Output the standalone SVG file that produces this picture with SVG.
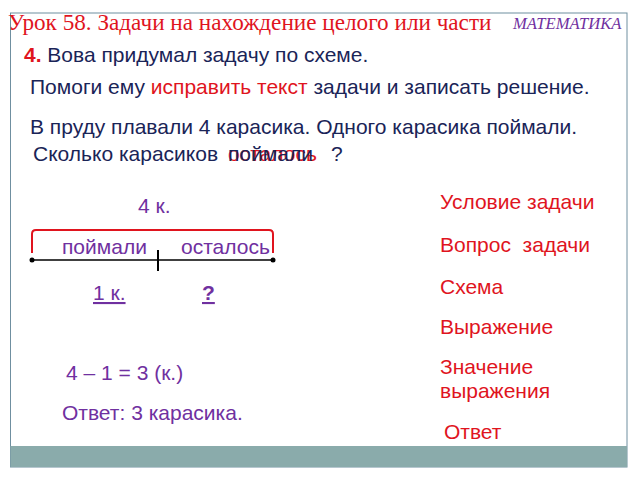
<svg xmlns="http://www.w3.org/2000/svg" width="638" height="479" viewBox="0 0 638 479">
<style>
.s{font-family:"Liberation Sans",Arial,sans-serif;font-size:21px}
.n{fill:#1a2457}
.r{fill:#e0141e}
.p{fill:#7030a0}
.t{font-family:"Liberation Serif","Times New Roman",serif}
</style>
<rect x="0" y="0" width="638" height="479" fill="#fff"/>
<g id="frame">
<rect x="10.5" y="13" width="616.5" height="454" fill="none" stroke="#6f8fa0" stroke-width="1"/>
<rect x="10.5" y="446" width="616.5" height="21" fill="#8aabab"/>
</g>
<g id="title">
<text class="t r" x="8" y="30" font-size="23.2">Урок 58. Задачи на нахождение целого или части</text>
<text class="t p" x="513" y="29" font-size="16.6" font-style="italic">МАТЕМАТИКА</text>
</g>
<g id="task">
<text class="s n" x="24" y="62"><tspan class="r" font-weight="bold">4.</tspan> Вова придумал задачу по схеме.</text>
<text class="s n" x="30" y="94">Помоги ему <tspan class="r">исправить текст</tspan> задачи и записать решение.</text>
<text class="s n" x="30" y="134">В пруду плавали 4 карасика. Одного карасика поймали.</text>
<text class="s n" x="33" y="161">Сколько карасиков</text>
<text class="s r" x="228" y="161">осталось</text>
<text class="s n" x="228" y="161">поймали</text>
<text class="s n" x="331" y="161">?</text>
</g>
<g id="scheme">
<text class="s p" x="138" y="213">4 к.</text>
<path d="M32 253 V234 Q32 230 36 230 H269 Q273 230 273 234 V253" fill="none" stroke="#e0141e" stroke-width="2"/>
<line x1="32" y1="260" x2="273" y2="260" stroke="#000" stroke-width="1.5"/>
<circle cx="32" cy="260" r="2.5" fill="#000"/>
<circle cx="273" cy="260" r="2.5" fill="#000"/>
<line x1="158" y1="250" x2="158" y2="271" stroke="#000" stroke-width="2"/>
<text class="s p" x="62" y="254">поймали</text>
<text class="s p" x="181" y="254">осталось</text>
<text class="s p" x="93" y="300" text-decoration="underline">1 к.</text>
<text class="s p" x="202" y="300" font-weight="bold" text-decoration="underline">?</text>
</g>
<g id="solution">
<text class="s p" x="66" y="380">4 – 1 = 3 (к.)</text>
<text class="s p" x="62" y="420">Ответ: 3 карасика.</text>
</g>
<g id="labels">
<text class="s r" x="440" y="209">Условие задачи</text>
<text class="s r" x="440" y="252" xml:space="preserve">Вопрос  задачи</text>
<text class="s r" x="440" y="294">Схема</text>
<text class="s r" x="440" y="334">Выражение</text>
<text class="s r" x="440" y="374">Значение</text>
<text class="s r" x="440" y="398">выражения</text>
<text class="s r" x="444" y="439">Ответ</text>
</g>
</svg>
